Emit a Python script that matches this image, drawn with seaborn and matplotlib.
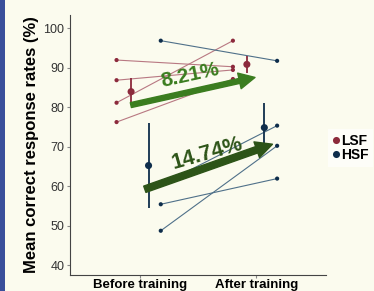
import pandas as pd
import seaborn as sns
import matplotlib.pyplot as plt
from matplotlib.patches import FancyArrowPatch, Rectangle

# values
times = ['Before training', 'After training']
subjects = ['s1', 's2', 's3', 's4']
lsf_before = [91.9, 86.8, 81.1, 76.2]
lsf_after = [90.2, 89.4, 96.8, 87.1]
hsf_before = [96.8, 60.3, 48.7, 55.4]
hsf_after = [91.7, 75.3, 70.2, 61.9]

mean_lsf = [83.9, 90.8]
sd_lsf = [3.4, 2.2]
mean_hsf = [65.2, 74.8]
sd_hsf = [10.8, 6.3]

gain_labels = ['8.21%', '14.74%']

red = '#8c2a3c'
blue = '#0e2d4b'
pal = {'LSF': red, 'HSF': blue}
line_pal = {'LSF': '#b87882', 'HSF': '#4f7089'}
green1 = '#3b7d1f'
green2 = '#2d5418'

# long table of the individual points
rows = []
for cond, bef, aft, off in [('LSF', lsf_before, lsf_after, -0.2), ('HSF', hsf_before, hsf_after, 0.18)]:
    for s, b, a in zip(subjects, bef, aft):
        rows.append({'cond': cond, 'subj': cond + s, 'x': 0 + off, 'value': b})
        rows.append({'cond': cond, 'subj': cond + s, 'x': 1 + off, 'value': a})
ind = pd.DataFrame(rows)

means = pd.DataFrame({
    'cond': ['LSF', 'LSF', 'HSF', 'HSF'],
    'x': [-0.075, 0.92, 0.075, 1.07],
    'value': mean_lsf + mean_hsf,
    'sd': sd_lsf + sd_hsf,
})

fig = plt.figure(figsize=(3.74, 2.91), dpi=100)
fig.patch.set_facecolor('#fbfbee')
fig.patches.append(Rectangle((0, 0), 5 / 374, 1, transform=fig.transFigure,
                             facecolor='#3a4f9b', edgecolor='none', zorder=0))
ax = fig.add_axes([70 / 374, 16 / 291, 256 / 374, 260 / 291])
ax.set_facecolor('#fbfbee')

sns.lineplot(data=ind, x='x', y='value', hue='cond', units='subj', estimator=None,
             palette=line_pal, lw=0.8, legend=False, ax=ax, zorder=2)
sns.scatterplot(data=ind, x='x', y='value', hue='cond', palette=pal, s=9,
                edgecolor='none', legend=False, ax=ax, zorder=3)

for cond in ['LSF', 'HSF']:
    d = means[means['cond'] == cond]
    ax.errorbar(d['x'], d['value'], yerr=d['sd'], fmt='none', ecolor=pal[cond],
                elinewidth=1.3, capsize=0, zorder=3)
sns.scatterplot(data=means, x='x', y='value', hue='cond', palette=pal, s=26,
                edgecolor='none', ax=ax, zorder=4)

# gain arrows
ax.add_patch(FancyArrowPatch((-0.077, 80.5), (0.99, 87.5),
                             arrowstyle='simple,head_width=1.15,head_length=1.15,tail_width=0.36',
                             mutation_scale=10, color=green1, shrinkA=0, shrinkB=0, zorder=5))
ax.add_patch(FancyArrowPatch((0.043, 59.2), (1.14, 70.6),
                             arrowstyle='simple,head_width=1.2,head_length=1.2,tail_width=0.48',
                             mutation_scale=10, color=green2, shrinkA=0, shrinkB=0, zorder=5))
ax.text(0.436, 88.1, gain_labels[0], color=green1, fontsize=15, fontweight='bold',
        rotation=12.3, ha='center', va='center', family='Liberation Sans', zorder=6)
ax.text(0.584, 68.3, gain_labels[1], color=green2, fontsize=15.5, fontweight='bold',
        rotation=16, ha='center', va='center', family='Liberation Sans', zorder=6)

ax.set_xlim(-0.6, 1.6)
ax.set_ylim(37.5, 103.3)
ax.set_xticks([0, 1])
ax.set_xticklabels(times, fontsize=9.5, fontweight='bold', family='Liberation Sans')
ax.set_yticks([40, 50, 60, 70, 80, 90, 100])
ax.tick_params(axis='y', labelsize=9, labelcolor='#333333', length=2, color='#888888', pad=2)
ax.tick_params(axis='x', length=2, color='#888888', pad=1)
for lab in ax.get_yticklabels():
    lab.set_family('Liberation Sans')
ax.set_xlabel('')
ax.set_ylabel('Mean correct response rates (%)', fontsize=12, fontweight='bold',
              family='Liberation Sans', labelpad=3)
for sp in ['top', 'right']:
    ax.spines[sp].set_visible(False)
for sp in ['left', 'bottom']:
    ax.spines[sp].set_color('#444444')
    ax.spines[sp].set_linewidth(0.8)

handles, labels = ax.get_legend_handles_labels()
leg = ax.legend(handles, labels, loc='center left', bbox_to_anchor=(328 / 374, 1 - 148 / 291),
                bbox_transform=fig.transFigure, frameon=True, fancybox=False,
                handletextpad=0.05, handlelength=0.6, labelspacing=0.05, borderpad=0.3,
                borderaxespad=0,
                prop={'family': 'Liberation Sans', 'weight': 'bold', 'size': 10})
leg.get_frame().set_facecolor('white')
leg.get_frame().set_edgecolor('none')
leg.get_frame().set_alpha(0.6)

fig.savefig('out.png', dpi=100, facecolor=fig.get_facecolor())
